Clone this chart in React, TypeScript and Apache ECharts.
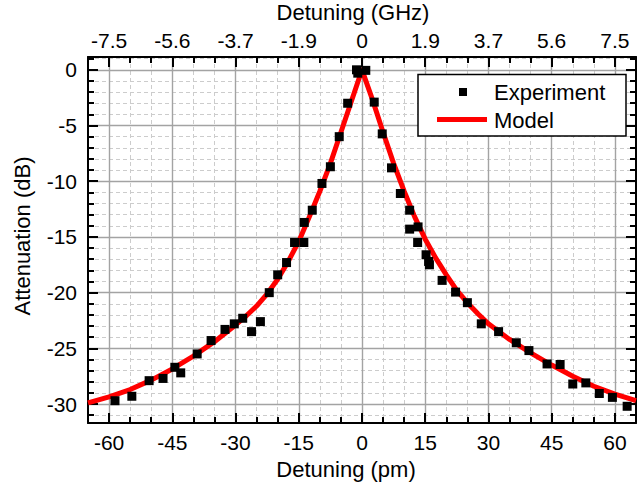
import React, { useEffect, useRef } from "react";
import * as echarts from "echarts";

// Experiment: detuning (pm) and attenuation (dB)
const expX = [
  -58.6, -54.6, -50.5, -47.2, -44.4, -43.0, -39.1, -35.8, -32.5, -30.3, -28.3, -26.2, -24.1,
  -22.0, -20.0, -17.9, -16.0, -13.8, -13.7, -11.8, -9.5, -7.5, -5.4, -3.4, -1.3, -1.0, 0.9,
  2.9, 4.8, 7.0, 9.1, 11.3, 11.3, 13.3, 13.2, 15.2, 15.8, 16.0, 19.0, 22.2, 25.0, 28.3, 32.4,
  36.6, 39.6, 43.9, 47.0, 50.0, 53.1, 56.3, 59.4, 62.9,
];
const expY = [
  -29.7, -29.3, -27.9, -27.7, -26.7, -27.2, -25.5, -24.3, -23.3, -22.8, -22.3, -23.5, -22.6,
  -20.0, -18.4, -17.3, -15.5, -15.5, -13.7, -12.6, -10.2, -8.7, -6.0, -3.0, 0.0, -0.3, -0.05,
  -2.9, -5.75, -8.8, -11.1, -12.6, -14.3, -14.1, -15.5, -16.6, -17.2, -17.5, -18.9, -19.95, -20.9,
  -22.8, -23.5, -24.5, -25.2, -26.4, -26.45, -28.2, -28.1, -29.05, -29.4, -30.2,
];

// Model curve
const modelX = [
  -65, -60, -55, -50, -45, -40, -35, -30, -27.5, -25, -22.5, -20, -17.5, -15, -12.5, -10, -7.5, -5,
  -2.5, 0, 2.5, 5, 7.5, 10, 12.5, 15, 17.5, 20, 22.5, 25, 27.5, 30, 35, 40, 45, 50, 55, 60, 65,
];
const modelY = [
  -29.9, -29.35, -28.7, -27.85, -26.85, -25.7, -24.4, -22.9, -22.1, -21.2, -20.1, -18.8, -17.2,
  -15.4, -13.2, -10.9, -8.4, -5.6, -2.8, 0, -2.7, -5.6, -8.4, -10.9, -13.2, -15.2, -16.9, -18.4,
  -19.8, -20.9, -21.9, -22.8, -24.2, -25.4, -26.5, -27.5, -28.4, -29.1, -29.7,
];

// Axes
const xRange = [-65, 65];
const yRange = [-31.7, 1.15];
const xMajorTicks = [-60, -45, -30, -15, 0, 15, 30, 45, 60];
const xMinorTicks = [-65, -55, -50, -40, -35, -25, -20, -10, -5, 5, 10, 20, 25, 35, 40, 50, 55, 65];
const topTickLabels = ["-7.5", "-5.6", "-3.7", "-1.9", "0", "1.9", "3.7", "5.6", "7.5"];
const yMajorTicks = [-30, -25, -20, -15, -10, -5, 0];
const yMinorTicks = [
  -31, -29, -28, -27, -26, -24, -23, -22, -21, -19, -18, -17, -16, -14, -13, -12, -11, -9, -8, -7,
  -6, -4, -3, -2, -1, 1,
];

const FONT = '"Liberation Sans", Arial, Helvetica, sans-serif';
const MAJOR_GRID = { color: "#a3a3a3", width: 1.4, type: "solid" as const };
const MINOR_GRID = { color: "#cccccc", width: 1, type: [4, 3] as any };
const AXIS_LINE = { show: true, onZero: false, lineStyle: { color: "#000", width: 2 } };
const NO_AXIS_LINE = { show: false, onZero: false };
const TICK_STYLE = { color: "#000", width: 2 };

export default function App() {
  const ref = useRef<HTMLDivElement>(null);

  useEffect(() => {
    if (!ref.current) return;
    const chart = echarts.init(ref.current, undefined, { renderer: "svg" });

    const baseX = (position: "top" | "bottom") => ({
      type: "value" as const,
      min: xRange[0],
      max: xRange[1],
      position,
    });
    const baseY = (position: "left" | "right") => ({
      type: "value" as const,
      min: yRange[0],
      max: yRange[1],
      position,
    });

    const option: any = {
      animation: false,
      backgroundColor: "#ffffff",
      textStyle: { fontFamily: FONT },
      grid: { left: 88, right: 1, top: 57, bottom: 66, containLabel: false, outerBoundsMode: "none" },
      xAxis: [
        {
          ...baseX("bottom"),
          name: "Detuning (pm)",
          nameLocation: "middle",
          nameGap: 35,
          nameTextStyle: { fontSize: 22, color: "#000", fontFamily: FONT, padding: [0, 32, 0, 0] },
          axisLine: AXIS_LINE,
          axisTick: { show: true, inside: true, length: 10, customValues: xMajorTicks, lineStyle: TICK_STYLE },
          axisLabel: { show: true, customValues: xMajorTicks, fontSize: 21, color: "#000", margin: 9, fontFamily: FONT },
          splitLine: { show: true, lineStyle: MAJOR_GRID },
          z: 3,
        },
        {
          ...baseX("bottom"),
          axisLine: NO_AXIS_LINE,
          axisTick: { show: true, inside: true, length: 6, customValues: xMinorTicks, lineStyle: TICK_STYLE },
          axisLabel: { show: false },
          splitLine: { show: true, lineStyle: MINOR_GRID },
          z: 2,
        },
        {
          ...baseX("top"),
          name: "Detuning (GHz)",
          nameLocation: "middle",
          nameGap: 34,
          nameTextStyle: { fontSize: 22, color: "#000", fontFamily: FONT, padding: [0, 18, 0, 0] },
          axisLine: AXIS_LINE,
          axisTick: { show: true, inside: true, length: 10, customValues: xMajorTicks, lineStyle: TICK_STYLE },
          axisLabel: {
            show: true,
            customValues: xMajorTicks,
            fontSize: 21,
            color: "#000",
            margin: 6,
            fontFamily: FONT,
            formatter: (v: number) => {
              const i = xMajorTicks.indexOf(v);
              return i >= 0 ? topTickLabels[i] : "";
            },
          },
          splitLine: { show: false },
          z: 3,
        },
        {
          ...baseX("top"),
          axisLine: NO_AXIS_LINE,
          axisTick: { show: true, inside: true, length: 6, customValues: xMinorTicks, lineStyle: TICK_STYLE },
          axisLabel: { show: false },
          splitLine: { show: false },
          z: 2,
        },
      ],
      yAxis: [
        {
          ...baseY("left"),
          name: "Attenuation (dB)",
          nameLocation: "middle",
          nameGap: 55,
          nameTextStyle: { fontSize: 22, color: "#000", fontFamily: FONT, padding: [0, 0, 0, 8] },
          axisLine: AXIS_LINE,
          axisTick: { show: true, inside: true, length: 10, customValues: yMajorTicks, lineStyle: TICK_STYLE },
          axisLabel: { show: true, customValues: yMajorTicks, fontSize: 21, color: "#000", margin: 11, fontFamily: FONT },
          splitLine: { show: true, lineStyle: MAJOR_GRID },
          z: 3,
        },
        {
          ...baseY("left"),
          axisLine: NO_AXIS_LINE,
          axisTick: { show: true, inside: true, length: 6, customValues: yMinorTicks, lineStyle: TICK_STYLE },
          axisLabel: { show: false },
          splitLine: { show: true, lineStyle: MINOR_GRID },
          z: 2,
        },
        {
          ...baseY("right"),
          axisLine: AXIS_LINE,
          axisTick: { show: true, inside: true, length: 10, customValues: yMajorTicks, lineStyle: TICK_STYLE },
          axisLabel: { show: false },
          splitLine: { show: false },
          z: 3,
        },
        {
          ...baseY("right"),
          axisLine: NO_AXIS_LINE,
          axisTick: { show: true, inside: true, length: 6, customValues: yMinorTicks, lineStyle: TICK_STYLE },
          axisLabel: { show: false },
          splitLine: { show: false },
          z: 2,
        },
      ],
      series: [
        {
          name: "Model",
          type: "line",
          xAxisIndex: 0,
          yAxisIndex: 0,
          data: modelX.map((x, i) => [x, modelY[i]]),
          showSymbol: false,
          smooth: false,
          lineStyle: { color: "#ff0000", width: 5, join: "round" },
          itemStyle: { color: "#ff0000" },
          z: 4,
        },
        {
          name: "Experiment",
          type: "scatter",
          xAxisIndex: 0,
          yAxisIndex: 0,
          data: expX.map((x, i) => [x, expY[i]]),
          symbol: "rect",
          symbolSize: 9,
          itemStyle: { color: "#000000", opacity: 1 },
          z: 5,
        },
      ],
      graphic: [
        {
          type: "rect",
          z: 100,
          shape: { x: 418, y: 74.5, width: 208, height: 61.5 },
          style: { fill: "#ffffff", stroke: "#000000", lineWidth: 1.5 },
        },
        {
          type: "rect",
          z: 101,
          shape: { x: 459, y: 88, width: 8, height: 8 },
          style: { fill: "#000000" },
        },
        {
          type: "line",
          z: 101,
          shape: { x1: 437, y1: 119.5, x2: 487, y2: 119.5 },
          style: { stroke: "#ff0000", lineWidth: 5 },
        },
        {
          type: "text",
          z: 101,
          x: 494,
          y: 92,
          style: { text: "Experiment", fontSize: 22, fontFamily: FONT, fill: "#000", verticalAlign: "middle", align: "left" },
        },
        {
          type: "text",
          z: 101,
          x: 494,
          y: 120,
          style: { text: "Model", fontSize: 22, fontFamily: FONT, fill: "#000", verticalAlign: "middle", align: "left" },
        },
      ],
    };

    chart.setOption(option);
    return () => chart.dispose();
  }, []);

  return (
    <div
      ref={ref}
      style={{ position: "fixed", left: 0, top: 0, width: 637, height: 489, background: "#fff" }}
    />
  );
}
